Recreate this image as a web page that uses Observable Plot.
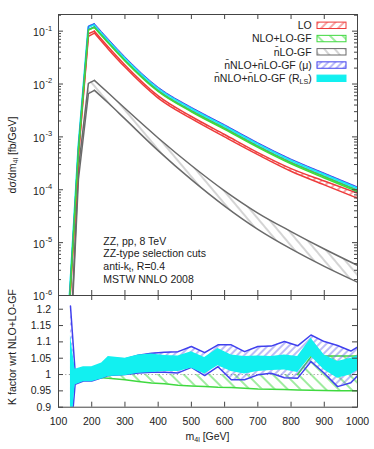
<!DOCTYPE html>
<html><head><meta charset="utf-8">
<script src="https://cdn.jsdelivr.net/npm/d3@7"></script>
<script src="https://cdn.jsdelivr.net/npm/@observablehq/plot@0.6"></script>
<style>
body{margin:0;background:#fff;}
#wrap{position:relative;width:374px;height:449px;font-family:"Liberation Sans",Arial,Helvetica,sans-serif;}
#wrap svg{position:absolute;left:0;overflow:visible;}
</style></head><body>
<svg width="0" height="0" style="position:absolute;left:0;top:0">
<defs>
<pattern id="hRed" patternUnits="userSpaceOnUse" width="6" height="6" patternTransform="rotate(45)"><line x1="1" y1="0" x2="1" y2="6" stroke="#ee3b3b" stroke-width="0.9"/></pattern>
<pattern id="hGreen" patternUnits="userSpaceOnUse" width="9" height="9" patternTransform="rotate(-45)"><line x1="1" y1="0" x2="1" y2="9" stroke="#3fd93f" stroke-width="1"/></pattern>
<pattern id="hGray" patternUnits="userSpaceOnUse" width="8" height="8" patternTransform="rotate(-40)"><line x1="1" y1="0" x2="1" y2="8" stroke="#a0a0a0" stroke-width="0.9"/></pattern>
<pattern id="hBlue" patternUnits="userSpaceOnUse" width="5" height="5" patternTransform="rotate(45)"><line x1="1" y1="0" x2="1" y2="5" stroke="#6a6aee" stroke-width="0.9"/></pattern>
</defs></svg>
<div id="wrap"></div>
<script>
// ---------- upper panel: dσ/dm4l [fb/GeV] ----------
const mTop  = [130, 160, 190, 208, 250, 300, 400, 500, 600, 700, 800, 900, 1000];
const loHi  = [3.0e-7, 4.79e-4, 0.0891, 0.100, 0.0501, 0.0229, 5.96e-3, 2.43e-3, 1.11e-3, 5.05e-4, 2.51e-4, 1.46e-4, 8.61e-5];
const loLo  = [2.75e-7, 4.37e-4, 0.0794, 0.0920, 0.0457, 0.0209, 5.43e-3, 2.21e-3, 1.00e-3, 4.62e-4, 2.24e-4, 1.24e-4, 6.92e-5];
const nloHi = [3.63e-7, 5.75e-4, 0.1059, 0.1186, 0.0603, 0.0279, 7.41e-3, 3.09e-3, 1.445e-3, 6.61e-4, 3.24e-4, 1.76e-4, 9.66e-5];
const nloLo = [3.63e-7, 5.73e-4, 0.1054, 0.1178, 0.0596, 0.0274, 7.23e-3, 2.99e-3, 1.387e-3, 6.32e-4, 3.08e-4, 1.67e-4, 9.18e-5];
const gfHi  = [2.0e-8, 2.51e-4, 1.03e-2, 1.17e-2, 6.76e-3, 3.47e-3, 9.55e-4, 2.88e-4, 9.55e-5, 3.63e-5, 1.62e-5, 7.59e-6, 3.72e-6];
const gfLo  = [1.5e-8, 1.58e-4, 6.6e-3, 7.6e-3, 4.37e-3, 2.19e-3, 5.50e-4, 1.55e-4, 4.90e-5, 1.78e-5, 7.59e-6, 3.55e-6, 1.78e-6];
const muHi  = [4.27e-7, 6.76e-4, 0.1245, 0.1393, 0.0708, 0.0327, 8.71e-3, 3.63e-3, 1.70e-3, 7.76e-4, 3.80e-4, 2.07e-4, 1.135e-4];
const muLo  = [3.72e-7, 5.89e-4, 0.1084, 0.1213, 0.0617, 0.0285, 7.59e-3, 3.16e-3, 1.48e-3, 6.76e-4, 3.31e-4, 1.80e-4, 9.89e-5];
const rlsHi = [4.12e-7, 6.53e-4, 0.1202, 0.1346, 0.0684, 0.0316, 8.41e-3, 3.51e-3, 1.64e-3, 7.50e-4, 3.67e-4, 2.00e-4, 1.096e-4];
const rlsLo = [3.85e-7, 6.10e-4, 0.1122, 0.1256, 0.0638, 0.0295, 7.85e-3, 3.27e-3, 1.53e-3, 7.00e-4, 3.43e-4, 1.86e-4, 1.023e-4];

// ---------- lower panel: K factor wrt NLO+LO-GF ----------
const mK     = [136, 150, 175, 200, 230, 250, 300, 340, 380, 420, 460, 500, 540, 580, 620, 660, 700, 740, 780, 820, 860, 900, 940, 980, 1000];
const kRlsHi = [1.12, 1.016, 1.024, 1.024, 1.035, 1.055, 1.050, 1.060, 1.063, 1.058, 1.057, 1.070, 1.052, 1.080, 1.060, 1.055, 1.057, 1.055, 1.060, 1.055, 1.111, 1.060, 1.040, 1.050, 1.057];
const kRlsLo = [0.80, 0.968, 0.978, 0.978, 0.986, 0.994, 0.996, 1.004, 1.006, 1.009, 1.009, 1.019, 1.002, 1.027, 1.009, 1.002, 1.009, 1.012, 1.014, 1.006, 1.055, 1.014, 0.989, 0.999, 1.012];
const kMuHi  = [1.21, 1.01, 1.02, 1.02, 1.03, 1.05, 1.048, 1.059, 1.065, 1.068, 1.070, 1.086, 1.067, 1.091, 1.091, 1.070, 1.086, 1.087, 1.101, 1.088, 1.121, 1.101, 1.089, 1.072, 1.084];
const kMuLo  = [0.80, 0.97, 0.98, 0.98, 0.99, 0.997, 1.0, 1.005, 1.007, 1.007, 1.005, 1.022, 0.997, 1.024, 0.984, 0.984, 0.999, 1.004, 0.990, 0.989, 1.040, 1.004, 0.963, 0.975, 0.996];
const kNloHi = [1.0, 1.0, 1.0, 1.0, 1.0, 1.0, 1.0, 1.0, 1.0, 1.0, 1.0, 1.0, 1.0, 1.0, 1.0, 1.0, 1.0, 1.0, 1.0, 1.0, 1.055, 1.057, 1.057, 1.057, 1.057];
const kNloLo = [1.0, 0.998, 0.996, 0.993, 0.990, 0.989, 0.984, 0.979, 0.974, 0.972, 0.967, 0.965, 0.963, 0.961, 0.960, 0.958, 0.956, 0.955, 0.954, 0.953, 0.952, 0.951, 0.950, 0.950, 0.950];

// ---------- ticks / labels ----------
const xTicks = [100, 200, 300, 400, 500, 600, 700, 800, 900, 1000];
const decadeTicks = [1e-6, 1e-5, 1e-4, 1e-3, 1e-2, 1e-1];
const decadeExp = ["-6", "-5", "-4", "-3", "-2", "-1"];
const kTicks = [0.9, 0.95, 1, 1.05, 1.1, 1.15, 1.2];
const kTickLabels = ["0.9", "0.95", "1", "1.05", "1.1", "1.15", "1.2"];
const legendLabels = [["LO"], ["NLO+LO-GF"], ["n\u0304LO-GF"], ["n\u0304NLO+n\u0304LO-GF (\u03bc)"], ["n\u0304NLO+n\u0304LO-GF (R", {sub: "LS"}, ")"]];
const infoLines = [["ZZ, pp, 8 TeV"], ["ZZ-type selection cuts"], ["anti-k", {sub: "t"}, ", R=0.4"], ["MSTW NNLO 2008"]];

const RED = "#ee3b3b", GREEN = "#3fd93f", GRAY = "#6a6a6a", BLUE = "#4040ee", CYAN = "#12f0f0", FRAME = "#444";
const FONT = "'Liberation Sans', Arial, Helvetica, sans-serif";

const topData = mTop.map((m, i) => ({m, loHi: loHi[i], loLo: loLo[i], nloHi: nloHi[i], nloLo: nloLo[i],
  gfHi: gfHi[i], gfLo: gfLo[i], muHi: muHi[i], muLo: muLo[i], rlsHi: rlsHi[i], rlsLo: rlsLo[i]}));
const kData = mK.map((m, i) => ({m, rHi: kRlsHi[i], rLo: kRlsLo[i], uHi: kMuHi[i], uLo: kMuLo[i], nHi: kNloHi[i], nLo: kNloLo[i]}));
const minorTicks = [];
for (const d of [1e-6, 1e-5, 1e-4, 1e-3, 1e-2, 1e-1]) for (let k = 2; k <= 9; k++) if (d * k <= 0.2) minorTicks.push(d * k);

// rising edge drawn straight, falling tail smoothed (split at the peak bin)
const PEAK = 208;
const rise = topData.filter(d => d.m <= PEAK);
const fall = topData.filter(d => d.m >= PEAK);
const seg = (mark, opts) => [
  mark(rise, {...opts, curve: "linear", clip: true}),
  mark(fall, {...opts, curve: "monotone-x", clip: true})
];
const area = (y1, y2, fill, extra = {}) => seg(Plot.areaY, {x: "m", y1, y2, fill, ...extra});
const line = (y, stroke, extra = {}) => seg(Plot.lineY, {x: "m", y, stroke, ...extra});

const W = 374, ML = 58, MR = 17;
const frameW = W - ML - MR;
const topFrameH = 296 - 14 - 1;

const topPlot = Plot.plot({
  width: W, height: 296, marginTop: 14, marginBottom: 1, marginLeft: ML, marginRight: MR,
  style: {fontFamily: FONT, fontSize: "10.5px", background: "transparent", color: "#222"},
  x: {domain: [100, 1000], axis: null},
  y: {type: "log", domain: [1e-6, 0.2065], axis: null},
  marks: [
    ...area("gfLo", "gfHi", "url(#hGray)"),
    ...line("gfHi", GRAY), ...line("gfLo", GRAY),
    ...area("loLo", "loHi", "url(#hRed)"),
    ...line("loHi", RED), ...line("loLo", RED),
    ...area("nloLo", "nloHi", "url(#hGreen)"),
    ...line("nloLo", GREEN),
    ...area("muLo", "muHi", "url(#hBlue)"),
    ...area("rlsLo", "rlsHi", CYAN, {stroke: CYAN, strokeWidth: 0.8}),
    ...line("muHi", BLUE, {strokeWidth: 0.9}), ...line("muLo", BLUE, {strokeWidth: 0.9}),
    ...line("nloHi", GREEN),
    Plot.ruleX(xTicks, {stroke: FRAME, insetBottom: topFrameH - 5}),
    Plot.ruleX(xTicks, {stroke: FRAME, insetTop: topFrameH - 5}),
    Plot.ruleY(decadeTicks, {stroke: FRAME, insetRight: frameW - 5}),
    Plot.ruleY(decadeTicks, {stroke: FRAME, insetLeft: frameW - 5}),
    Plot.ruleY(minorTicks, {stroke: FRAME, insetRight: frameW - 3}),
    Plot.ruleY(minorTicks, {stroke: FRAME, insetLeft: frameW - 3}),
    Plot.frame({stroke: FRAME}),
    Plot.text(decadeTicks, {y: d => d, frameAnchor: "left", text: () => "10", textAnchor: "end", dx: -13.7, dy: 1.5, fill: "#222", fontSize: 10.5}),
    Plot.text(decadeTicks, {y: d => d, frameAnchor: "left", text: (d, i) => decadeExp[i], textAnchor: "start", dx: -13, dy: -3, fill: "#222", fontSize: 7.5})
  ]
});

const kFrameH = 155 - 1 - 42.3;
const kTail = kData.filter(d => d.m >= 820);
const botPlot = Plot.plot({
  width: W, height: 155, marginTop: 1, marginBottom: 42.3, marginLeft: ML, marginRight: MR,
  style: {fontFamily: FONT, fontSize: "10.5px", background: "transparent", color: "#222"},
  x: {domain: [100, 1000]},
  y: {domain: [0.9, 1.242]},
  marks: [
    Plot.areaY(kData, {x: "m", y1: "nLo", y2: "nHi", fill: "url(#hGreen)", clip: true}),
    Plot.lineY(kData, {x: "m", y: "nLo", stroke: GREEN, clip: true}),
    Plot.lineY(kTail, {x: "m", y: "nHi", stroke: GREEN, clip: true}),
    Plot.ruleY([1], {stroke: "#9a9a9a", strokeDasharray: "1.2,2.4"}),
    Plot.areaY(kData, {x: "m", y1: "uLo", y2: "uHi", fill: "url(#hBlue)", clip: true}),
    Plot.lineY(kData, {x: "m", y: "uLo", stroke: BLUE, clip: true}),
    Plot.lineY(kData, {x: "m", y: "uHi", stroke: BLUE, clip: true}),
    Plot.areaY(kData, {x: "m", y1: "rLo", y2: "rHi", fill: CYAN, clip: true}),
    Plot.ruleX(xTicks, {stroke: FRAME, insetBottom: kFrameH - 5}),
    Plot.ruleX(xTicks, {stroke: FRAME, insetTop: kFrameH - 5}),
    Plot.ruleY(kTicks, {stroke: FRAME, insetRight: frameW - 5}),
    Plot.ruleY(kTicks, {stroke: FRAME, insetLeft: frameW - 5}),
    Plot.frame({stroke: FRAME}),
    Plot.axisX({ticks: xTicks, tickSize: 0, tickPadding: 10.5, anchor: "bottom", label: null, tickFormat: d => String(d), fill: "#222"}),
    Plot.axisY({ticks: kTicks, tickSize: 0, tickPadding: 7.3, anchor: "left", label: null, tickFormat: d => kTickLabels[kTicks.indexOf(d)], fill: "#222"})
  ]
});

const wrap = document.getElementById("wrap");
topPlot.style.top = "0px";
botPlot.style.top = "294px";
wrap.appendChild(topPlot);
wrap.appendChild(botPlot);

function rich(svg, x, y, parts, {anchor = "start", rotate = null, size = 10.5} = {}) {
  const t = d3.select(svg).append("text").attr("x", x).attr("y", y)
    .attr("text-anchor", anchor).attr("font-size", size).attr("fill", "#222").attr("font-family", FONT);
  if (rotate != null) t.attr("transform", `rotate(${rotate},${x},${y})`);
  let shift = 0;
  for (const p of parts) {
    const ts = t.append("tspan");
    if (typeof p === "string") { if (shift) ts.attr("dy", -shift); shift = 0; ts.text(p); }
    else { const s = p.sub != null ? size * 0.2 : -size * 0.4; ts.attr("dy", s - shift).attr("font-size", size * 0.68).text(p.sub != null ? p.sub : p.sup); shift = s; }
  }
  return t;
}

// legend
const swatchFill = ["url(#hRed)", "url(#hGreen)", "url(#hGray)", "url(#hBlue)", CYAN];
const swatchStroke = [RED, GREEN, GRAY, BLUE, CYAN];
legendLabels.forEach((lab, i) => {
  const cy = 25.3 + i * 13.25;
  rich(topPlot, 311.7, cy + 3.7, lab, {anchor: "end"});
  d3.select(topPlot).append("rect").attr("x", 317).attr("y", cy - 3.2).attr("width", 29).attr("height", 6.4)
    .attr("fill", swatchFill[i]).attr("stroke", swatchStroke[i]).attr("stroke-width", 1);
});
// info block
const infoBase = [244.6, 257.4, 270.0, 283.4];
infoLines.forEach((l, i) => rich(topPlot, 103.3, infoBase[i], l));
// axis titles
rich(topPlot, 16.3, 155, ["d\u03c3/dm", {sub: "4l"}, " [fb/GeV]"], {anchor: "middle", rotate: -90});
rich(botPlot, 15.5, 347 - 294, ["K factor wrt NLO+LO-GF"], {anchor: "middle", rotate: -90});
rich(botPlot, 207.5, 440 - 294, ["m", {sub: "4l"}, " [GeV]"], {anchor: "middle"});
</script>
</body></html>
